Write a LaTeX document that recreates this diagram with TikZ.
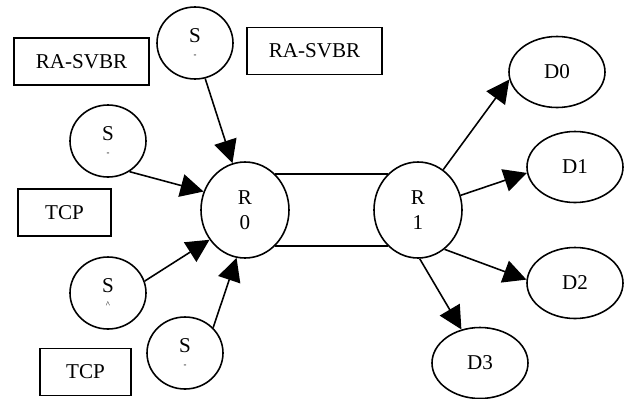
\documentclass[tikz,border=0pt]{standalone}
\usepackage{fontspec}
\setmainfont{Liberation Serif}
\usetikzlibrary{shapes.geometric,arrows.meta}
\begin{document}
\begin{tikzpicture}[
    font=\fontsize{12}{14}\selectfont,
    every node/.style={line width=0.9pt},
    src/.style={draw,ellipse,minimum width=1.52cm,minimum height=1.44cm,inner sep=0pt,align=center},
    rtr/.style={draw,ellipse,minimum width=1.76cm,minimum height=1.92cm,inner sep=0pt,align=center},
    dst/.style={draw,ellipse,minimum width=1.92cm,minimum height=1.42cm,inner sep=0pt},
    tag/.style={draw,rectangle,minimum height=0.94cm,inner sep=0pt}
  ]
  \useasboundingbox (0,0) rectangle (12.5,-7.96);
      \draw
        (3.90,-0.86) node[src] (s0){S\\[-6pt]{\tiny -}}
        (2.16,-2.82) node[src] (s1){S\\[-6pt]{\tiny -}}
        (2.16,-5.86) node[src] (s2){S\\[-6pt]{\tiny \textasciicircum}}
        (3.70,-7.06) node[src] (s3){S\\[-6pt]{\tiny -}}
        (4.90,-4.20) node[rtr] (r0){R\\0}
        (8.36,-4.20) node[rtr] (r1){R\\1}
        (11.14,-1.44) node[dst] (d0){D0}
        (11.50,-3.34) node[dst] (d1){D1}
        (11.50,-5.66) node[dst] (d2){D2}
        (9.60,-7.26) node[dst] (d3){D3}
        (1.63,-1.23) node[tag,minimum width=2.70cm] (ra0){RA-SVBR}
        (6.29,-1.02) node[tag,minimum width=2.70cm] (ra1){RA-SVBR}
        (1.29,-4.25) node[tag,minimum width=1.86cm] (tcp0){TCP}
        (1.71,-7.44) node[tag,minimum width=1.82cm] (tcp1){TCP};
      \begin{scope}[line width=0.9pt,-{Triangle[length=0.46cm,width=0.46cm]}]
        \draw (s0.-74) to (r0.105);
        \draw (s1.-55) to (r0.156);
        \draw (s2.18) to (r0.220);
        \draw (s3.42) to (r0.260);
        \draw (r1.58) to (d0.189);
        \draw (r1.19) to (d1.187);
        \draw (r1.-56) to (d2.176);
        \draw (r1.-88) to (d3.119);
      \end{scope}
      \begin{scope}[line width=0.9pt,-]
        \draw (r0.50) to (r1.130);
        \draw (r0.-50) to (r1.-130);
      \end{scope}
    \end{tikzpicture}
\end{document}
